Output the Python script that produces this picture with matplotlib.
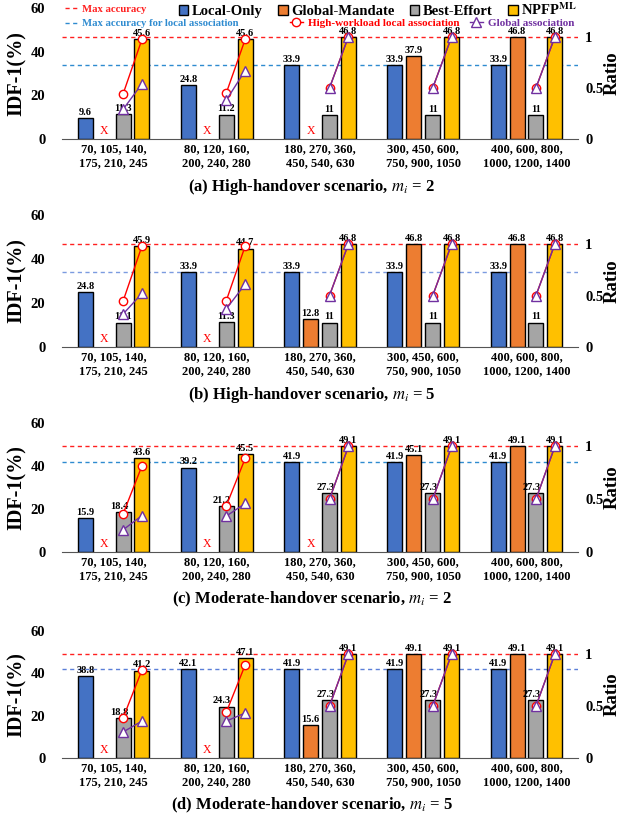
import matplotlib
matplotlib.use("Agg")
import matplotlib.pyplot as plt
import numpy as np
from matplotlib.lines import Line2D
from matplotlib.patches import Patch

plt.rcParams['font.family'] = ['Liberation Serif', 'DejaVu Serif']
plt.rcParams['mathtext.fontset'] = 'stix'

groups = ["70, 105, 140,\n175, 210, 245", "80, 120, 160,\n200, 240, 280",
          "180, 270, 360,\n450, 540, 630", "300, 450, 600,\n750, 900, 1050",
          "400, 600, 800,\n1000, 1200, 1400"]
series = ["Local-Only", "Global-Mandate", "Best-Effort", r"NPFP$^{\mathbf{ML}}$"]
colors = ["#4472C4", "#ED7D31", "#A5A5A5", "#FFC000"]

captions = [r"(a) High-handover scenario, $m_i$ = 2",
            r"(b) High-handover scenario, $m_i$ = 5",
            r"(c) Moderate-handover scenario, $m_i$ = 2",
            r"(d) Moderate-handover scenario, $m_i$ = 5"]

# None = infeasible (drawn as red X)
local_only = [[9.6, 24.8, 33.9, 33.9, 33.9],
              [24.8, 33.9, 33.9, 33.9, 33.9],
              [15.9, 39.2, 41.9, 41.9, 41.9],
              [38.8, 42.1, 41.9, 41.9, 41.9]]
global_mandate = [[None, None, None, 37.9, 46.8],
                  [None, None, 12.8, 46.8, 46.8],
                  [None, None, None, 45.1, 49.1],
                  [None, None, 15.6, 49.1, 49.1]]
best_effort = [[11.3, 11.2, 11, 11, 11],
               [11.1, 11.3, 11, 11, 11],
               [18.4, 21.2, 27.3, 27.3, 27.3],
               [18.8, 24.3, 27.3, 27.3, 27.3]]
npfp = [[45.6, 45.6, 46.8, 46.8, 46.8],
        [45.9, 44.7, 46.8, 46.8, 46.8],
        [43.6, 45.5, 49.1, 49.1, 49.1],
        [41.2, 47.1, 49.1, 49.1, 49.1]]
max_acc = [46.8, 46.8, 49.1, 49.1]
max_local = [33.9, 33.9, 41.9, 41.9]

# ratio lines: (value at Best-Effort position, value at NPFP position) per group
hw_local_ratio = [[(0.44, 0.975), (0.45, 0.975), (0.5, 1), (0.5, 1), (0.5, 1)],
                  [(0.445, 0.98), (0.45, 0.98), (0.5, 1), (0.5, 1), (0.5, 1)],
                  [(0.36, 0.815), (0.437, 0.886), (0.5, 1), (0.5, 1), (0.5, 1)],
                  [(0.384, 0.846), (0.44, 0.895), (0.5, 1), (0.5, 1), (0.5, 1)]]
global_ratio = [[(0.29, 0.54), (0.38, 0.67), (0.5, 1), (0.5, 1), (0.5, 1)],
                [(0.32, 0.52), (0.37, 0.61), (0.5, 1), (0.5, 1), (0.5, 1)],
                [(0.21, 0.345), (0.34, 0.46), (0.5, 1), (0.5, 1), (0.5, 1)],
                [(0.25, 0.355), (0.355, 0.433), (0.5, 1), (0.5, 1), (0.5, 1)]]

blue_line_colors = ["#2E8BD0", "#7B9BE0", "#2E8BD0", "#5B7FD8"]
DASH = (0, (3, 2.5))

fig = plt.figure(figsize=(6.23, 8.25), dpi=100)
boxes = [(0.8315, 0.9903), (0.5794, 0.7394), (0.3309, 0.4873), (0.0812, 0.2352)]
left, right = 0.0995, 0.928

step = 0.183
width = 0.145
offsets = [-1.5 * step, -0.5 * step, 0.5 * step, 1.5 * step]
x = np.arange(len(groups))

for p in range(4):
    b0, b1 = boxes[p]
    ax = fig.add_axes([left, b0, right - left, b1 - b0])
    ax2 = ax.twinx()
    ax.set_ylim(0, 60)
    ax.set_xlim(-0.5, 4.5)
    ax2.set_ylim(0, 60 / max_acc[p])

    ax.axhline(max_acc[p], color="#FF2020", ls=DASH, lw=1.0, zorder=1)
    ax.axhline(max_local[p], color=blue_line_colors[p], ls=DASH, lw=1.0, zorder=1)

    data = [local_only[p], global_mandate[p], best_effort[p], npfp[p]]
    for s in range(4):
        for g in range(5):
            v = data[s][g]
            xp = x[g] + offsets[s]
            if v is None:
                ax.text(xp, 0.8, "X", color="red", ha="center", va="bottom",
                        fontsize=8.5, zorder=5)
                continue
            ax.bar(xp, v, width=width, color=colors[s], edgecolor="black",
                   linewidth=1.0, zorder=2)
            dx = 0
            if s == 2 and p >= 2:
                dx = -0.04
            ax.text(xp + dx, v + 0.6, f"{v:g}", ha="center", va="bottom",
                    fontsize=7.5, fontweight="bold", zorder=6)

    for g in range(5):
        xs = [x[g] + offsets[2], x[g] + offsets[3]]
        ax2.plot(xs, hw_local_ratio[p][g], color="red", lw=1.0, marker="o",
                 markersize=6, markerfacecolor="white", markeredgecolor="red",
                 markeredgewidth=1.0, zorder=3)
        ax2.plot(xs, global_ratio[p][g], color="#7030A0", lw=1.0, marker="^",
                 markersize=7, markerfacecolor="white", markeredgecolor="#7030A0",
                 markeredgewidth=1.0, zorder=4)

    ax.set_xticks(x)
    ax.set_xticklabels(groups, fontsize=9, fontweight="bold", linespacing=1.2)
    ax.set_yticks([0, 20, 40, 60])
    ax.set_yticklabels(["0", "20", "40", "60"], fontsize=10.5, fontweight="bold")
    ax2.set_yticks([0, 0.5, 1])
    ax2.set_yticklabels(["0", "0.5", "1"], fontsize=10.5, fontweight="bold")
    ax.tick_params(axis="x", length=0, pad=3)
    ax.tick_params(axis="y", length=0, pad=12)
    ax2.tick_params(axis="y", length=0, pad=5)
    for a in (ax, ax2):
        for side in ("top", "left", "right"):
            a.spines[side].set_visible(False)
    ax.spines["bottom"].set_color("#555555")
    ax2.spines["bottom"].set_visible(False)
    ax.set_ylabel("IDF-1(%)", fontsize=14.5, fontweight="bold", labelpad=3)
    ax2.set_ylabel("Ratio", fontsize=13.5, fontweight="bold", labelpad=0)

    cap_y = b0 - 0.058
    fig.text(0.5, cap_y, captions[p], ha="center", va="center", fontsize=12,
             fontweight="bold")

# Legends
bar_handles = [Patch(facecolor=c, edgecolor="black", linewidth=1.0) for c in colors]
fig.legend(bar_handles, series, loc="center left", bbox_to_anchor=(0.287, 0.988),
           ncol=4, frameon=False, prop={"weight": "bold", "size": 10.5},
           handlelength=0.65, handleheight=0.65, handletextpad=0.25,
           columnspacing=1.05, borderpad=0, borderaxespad=0)

line_handles = [Line2D([], [], color="#FF2020", ls=DASH, lw=1.0),
                Line2D([], [], color="#2E8BD0", ls=DASH, lw=1.0)]
fig.legend(line_handles, ["Max accuracy", "Max accuracy for local association"],
           loc="center left", bbox_to_anchor=(0.104, 0.980), ncol=1, frameon=False,
           prop={"weight": "bold", "size": 7.7}, handlelength=1.1,
           handletextpad=0.55, labelspacing=0.45, borderpad=0, borderaxespad=0,
           labelcolor=["#FF2020", "#2E8BD0"])

mk_handles = [Line2D([], [], color="red", lw=1.0, marker="o", markersize=6,
                     markerfacecolor="white"),
              Line2D([], [], color="#7030A0", lw=1.0, marker="^", markersize=7,
                     markerfacecolor="white")]
fig.legend(mk_handles, ["High-workload local association", "Global association"],
           loc="center left", bbox_to_anchor=(0.465, 0.9725), ncol=2, frameon=False,
           prop={"weight": "bold", "size": 8}, handlelength=1.2,
           handletextpad=0.45, columnspacing=0.9, borderpad=0, borderaxespad=0,
           labelcolor=["red", "#7030A0"])

fig.savefig("out.png", dpi=100)
